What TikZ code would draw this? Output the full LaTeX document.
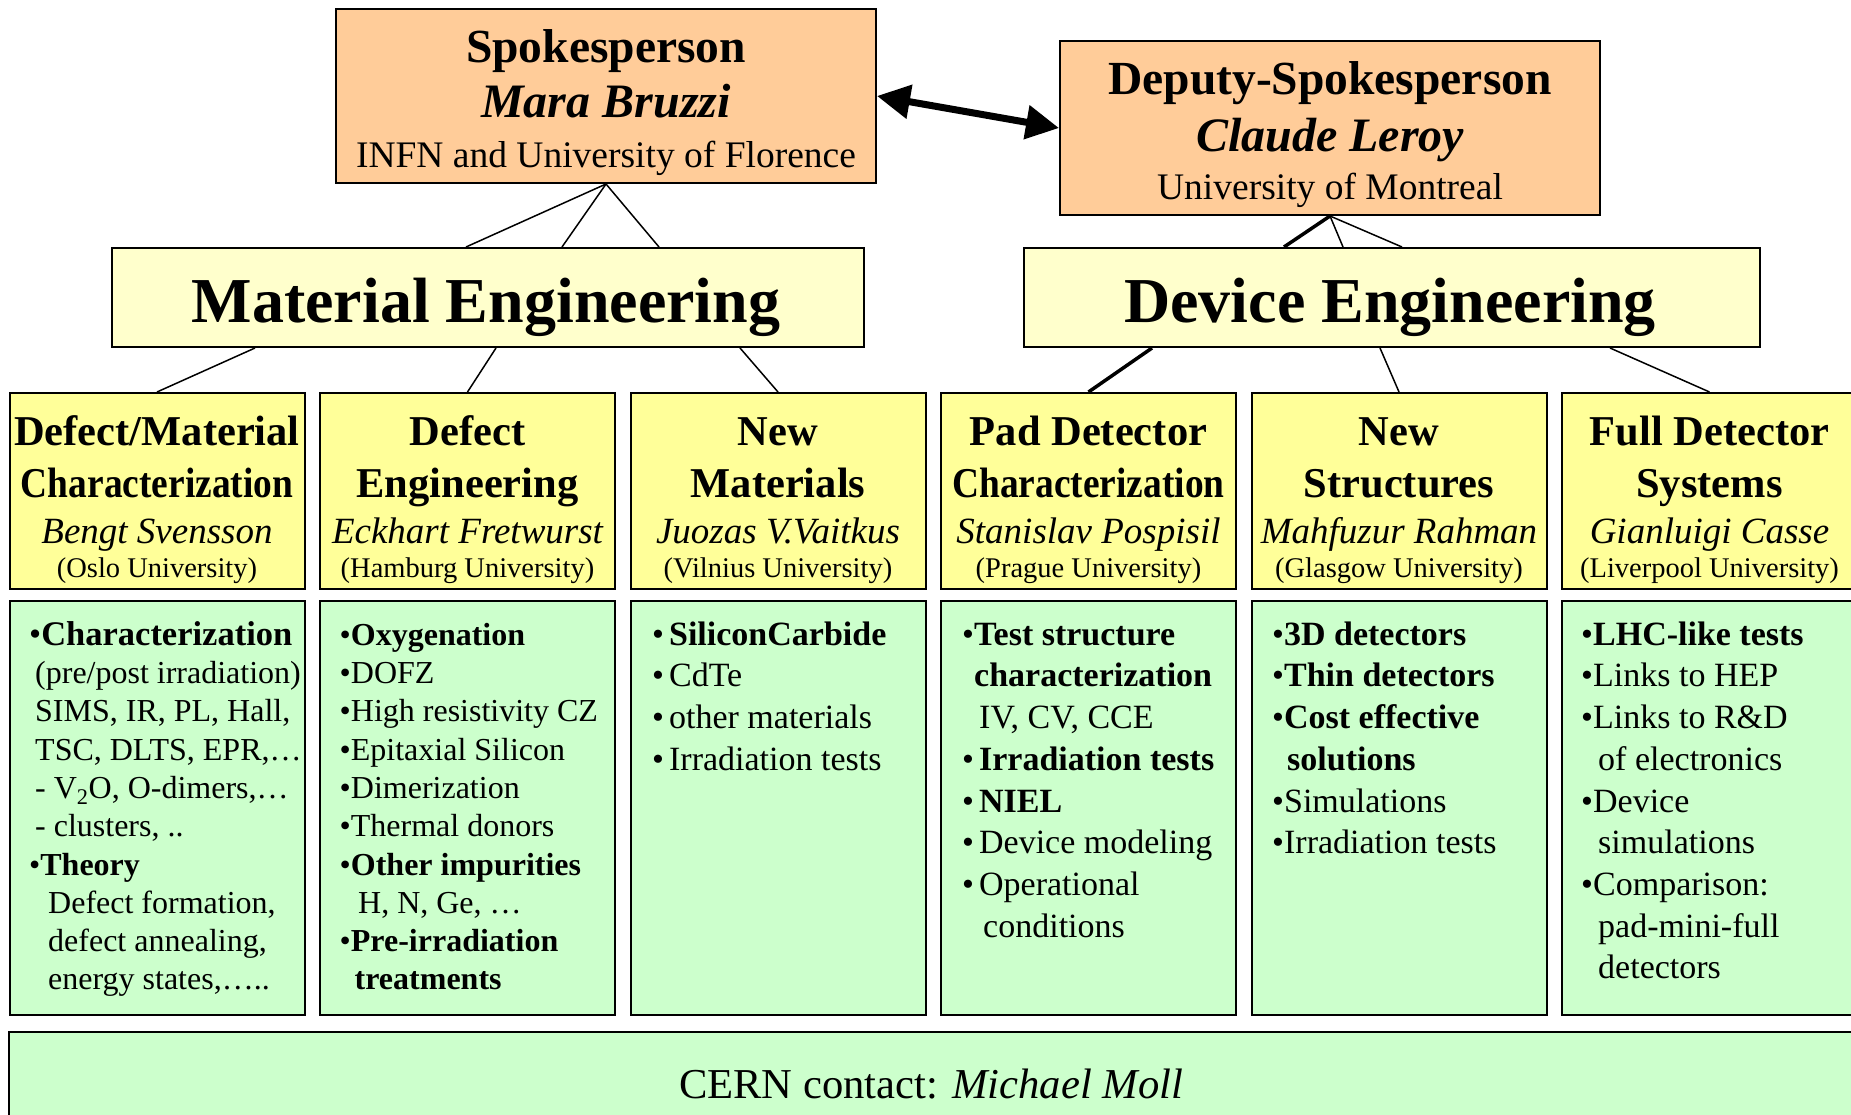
\documentclass[tikz,border=0pt]{standalone}
\usepackage{fontspec}
\usepackage{graphicx}
\setmainfont{Liberation Serif}
\usetikzlibrary{arrows.meta}
\definecolor{rdPeach}{HTML}{FFCC99}
\definecolor{rdCream}{HTML}{FFFFCC}
\definecolor{rdYellow}{HTML}{FFFF99}
\definecolor{rdMint}{HTML}{CCFFCC}
\tikzset{
  rd box/.style={draw=black, line width=2pt, inner sep=0pt},
  rd link/.style={draw=black, line width=1.5pt},
  rd strong link/.style={draw=black, line width=3.5pt},
  rd text/.style={anchor=base, inner sep=0pt},
  rd list/.style={anchor=north west, inner sep=0pt, align=left},
}

\begin{document}
\begin{tikzpicture}[x=1pt, y=-1pt,
  lead/.style={rd box, fill=rdPeach, minimum width=540pt, minimum height=174pt},
  area/.style={rd box, fill=rdCream, minimum height=99pt},
  group/.style={rd box, fill=rdYellow, minimum width=295pt, minimum height=196pt},
  tasks/.style={rd box, fill=rdMint, minimum width=295pt, minimum height=414pt},
  role/.style={rd text, font=\fontsize{47.5}{56}\selectfont\bfseries},
  person/.style={rd text, font=\fontsize{48}{56}\selectfont\bfseries\itshape},
  home/.style={rd text, font=\fontsize{37.5}{44}\selectfont},
  areaname/.style={rd text, font=\fontsize{64}{76}\selectfont\bfseries},
  gtitle/.style={rd text, font=\fontsize{42.5}{50}\selectfont\bfseries},
  gname/.style={rd text, font=\fontsize{37}{44}\selectfont\itshape},
  guni/.style={rd text, font=\fontsize{28.5}{34}\selectfont},
  small list/.style={rd list, font=\fontsize{32}{38.3}\selectfont},
  big list/.style={rd list, font=\fontsize{34}{41.7}\selectfont},
  both ways/.style={draw=black, line width=7pt,
    {Triangle[length=33pt,width=33pt]}-{Triangle[length=33pt,width=33pt]}}
]
  \useasboundingbox (0,0) rectangle (1851,1115);
  \clip (0,0) rectangle (1851,1115);

  % spokespersons
  \node[lead] (spk) at (606,96) {};
  \node[role] (spkRole) at (606,63) {Spokesperson};
  \node[person] (spkName) at (606,118) {Mara Bruzzi};
  \node[home] (spkHome) at (606,168) {INFN and University of Florence};
  \node[lead] (dep) at (1330,128) {};
  \node[role] (depRole) at (1330,95) {Deputy-Spokesperson};
  \node[person] (depName) at (1330,152) {Claude Leroy};
  \node[home] (depHome) at (1330,200) {University of Montreal};
  \draw[both ways] (spk.east) -- (dep.west);

  % research lines
  \node[area, minimum width=752pt] (matEng) at (488,297.5) {};
  \node[areaname] (matEngName) at (486,322) {Material Engineering};
  \node[area, minimum width=736pt] (devEng) at (1392,297.5) {};
  \node[areaname] (devEngName) at (1390,322) {Device Engineering};
  \draw[rd link] (spk.south) -- ([xshift=-22pt]matEng.north);
  \draw[rd link] (spk.south) -- ([xshift=74pt]matEng.north);
  \draw[rd link] (spk.south) -- ([xshift=171pt]matEng.north);
  \draw[rd strong link] (dep.south) -- ([xshift=-108pt]devEng.north);
  \draw[rd link] (dep.south) -- ([xshift=-49pt]devEng.north);
  \draw[rd link] (dep.south) -- ([xshift=10pt]devEng.north);

  % working groups
  \node[group] (wg1) at (157,491) {};
  \node[gtitle] (wg1a) at (157,445) {Defect/Material};
  \node[gtitle] (wg1b) at (157,497) {\scalebox{0.88}[1]{Characterization}};
  \node[gname] (wg1p) at (157,543) {Bengt Svensson};
  \node[guni] (wg1u) at (157,577) {(Oslo University)};
  \node[group] (wg2) at (467.5,491) {};
  \node[gtitle] (wg2a) at (467.5,445) {Defect};
  \node[gtitle] (wg2b) at (467.5,497) {Engineering};
  \node[gname] (wg2p) at (467.5,543) {Eckhart Fretwurst};
  \node[guni] (wg2u) at (467.5,577) {(Hamburg University)};
  \node[group] (wg3) at (778,491) {};
  \node[gtitle] (wg3a) at (778,445) {New};
  \node[gtitle] (wg3b) at (778,497) {Materials};
  \node[gname] (wg3p) at (778,543) {Juozas V.Vaitkus};
  \node[guni] (wg3u) at (778,577) {(Vilnius University)};
  \node[group] (wg4) at (1088.5,491) {};
  \node[gtitle] (wg4a) at (1088.5,445) {Pad Detector};
  \node[gtitle] (wg4b) at (1088.5,497) {\scalebox{0.88}[1]{Characterization}};
  \node[gname] (wg4p) at (1088.5,543) {Stanislav Pospisil};
  \node[guni] (wg4u) at (1088.5,577) {(Prague University)};
  \node[group] (wg5) at (1399,491) {};
  \node[gtitle] (wg5a) at (1399,445) {New};
  \node[gtitle] (wg5b) at (1399,497) {Structures};
  \node[gname] (wg5p) at (1399,543) {Mahfuzur Rahman};
  \node[guni] (wg5u) at (1399,577) {(Glasgow University)};
  \node[group] (wg6) at (1709.5,491) {};
  \node[gtitle] (wg6a) at (1709.5,445) {Full Detector};
  \node[gtitle] (wg6b) at (1709.5,497) {Systems};
  \node[gname] (wg6p) at (1709.5,543) {Gianluigi Casse};
  \node[guni] (wg6u) at (1709.5,577) {(Liverpool University)};
  \draw[rd link] ([xshift=-233pt]matEng.south) -- (wg1.north);
  \draw[rd link] ([xshift=8pt]matEng.south) -- (wg2.north);
  \draw[rd link] ([xshift=252pt]matEng.south) -- (wg3.north);
  \draw[rd strong link] ([xshift=-240pt]devEng.south) -- (wg4.north);
  \draw[rd link] ([xshift=-12pt]devEng.south) -- (wg5.north);
  \draw[rd link] ([xshift=218pt]devEng.south) -- (wg6.north);

  % tasks of each group
  \node[tasks] (tk1) at (157,808) {};
  \node[tasks] (tk2) at (467.5,808) {};
  \node[tasks] (tk3) at (778,808) {};
  \node[tasks] (tk4) at (1088.5,808) {};
  \node[tasks] (tk5) at (1399,808) {};
  \node[tasks] (tk6) at (1709.5,808) {};
  \node[small list] (list1) at (29,615) {\rule{0pt}{30pt}{\fontsize{34.5}{38.3}\selectfont•\textbf{Characterization}}\\
    \hspace*{6pt}(pre/post irradiation)\\
    \hspace*{6pt}SIMS, IR, PL, Hall,\\
    \hspace*{6pt}TSC, DLTS, EPR,…\\
    \hspace*{6pt}- V\textsubscript{2}O, O-dimers,…\\
    \hspace*{6pt}- clusters, ..\\
    •\textbf{Theory}\\
    \hspace*{19pt}Defect formation,\\
    \hspace*{19pt}defect annealing,\\
    \hspace*{19pt}energy states,…..};
  \node[small list] (list2) at (339.5,615) {\rule{0pt}{30pt}•\textbf{Oxygenation}\\
    •DOFZ\\
    •High resistivity CZ\\
    •Epitaxial Silicon\\
    •Dimerization\\
    •Thermal donors\\
    •\textbf{Other impurities}\\
    \hspace*{18.5pt}H, N, Ge, …\\
    •\textbf{Pre-irradiation}\\
    \hspace*{15pt}\textbf{treatments}};
  \node[big list] (list3) at (652,615) {\rule{0pt}{30pt}•\hspace{5pt}\textbf{SiliconCarbide}\\
    •\hspace{5pt}CdTe\\
    •\hspace{5pt}other materials\\
    •\hspace{5pt}Irradiation tests};
  \node[big list] (list4) at (962,615) {\rule{0pt}{30pt}•\textbf{Test structure}\\
    \hspace*{12pt}\textbf{characterization}\\
    \hspace*{17pt}IV, CV, CCE\\
    •\hspace{5pt}\textbf{Irradiation tests}\\
    •\hspace{5pt}\textbf{NIEL}\\
    •\hspace{5pt}Device modeling\\
    •\hspace{5pt}Operational\\
    \hspace*{21pt}conditions};
  \node[big list] (list5) at (1272,615) {\rule{0pt}{30pt}•\textbf{3D detectors}\\
    •\textbf{Thin detectors}\\
    •\textbf{Cost effective}\\
    \hspace*{15pt}\textbf{solutions}\\
    •Simulations\\
    •Irradiation tests};
  \node[big list] (list6) at (1581,615) {\rule{0pt}{30pt}•\textbf{LHC-like tests}\\
    •Links to HEP\\
    •Links to R\&D\\
    \hspace*{17pt}of electronics\\
    •Device\\
    \hspace*{17pt}simulations\\
    •Comparison:\\
    \hspace*{17pt}pad-mini-full\\
    \hspace*{17pt}detectors};

  % contact
  \node[rd box, fill=rdMint, minimum width=1848pt, minimum height=102pt] (cern) at (933,1083) {};
  \node[rd text, font=\fontsize{42.6}{50}\selectfont] (cernText) at (931,1098) {CERN contact: \textit{Michael Moll}};
\end{tikzpicture}
\end{document}
